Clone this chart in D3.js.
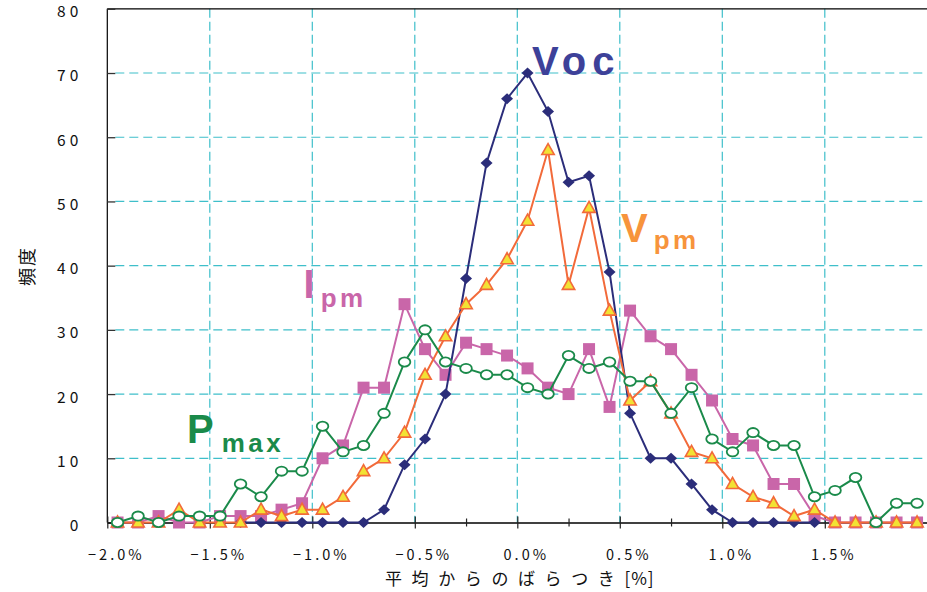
<!DOCTYPE html>
<html><head><meta charset="utf-8">
<script src="https://cdn.jsdelivr.net/npm/d3@7"></script>
<style>body{margin:0;background:#fff}</style>
</head><body>
<svg id="c" width="927" height="592"></svg>
<script>
// bin centres (%), -1.95 .. 1.95 step 0.1
const bins = [-1.95,-1.85,-1.75,-1.65,-1.55,-1.45,-1.35,-1.25,-1.15,-1.05,-0.95,-0.85,-0.75,-0.65,-0.55,-0.45,-0.35,-0.25,-0.15,-0.05,
               0.05,0.15,0.25,0.35,0.45,0.55,0.65,0.75,0.85,0.95,1.05,1.15,1.25,1.35,1.45,1.55,1.65,1.75,1.85,1.95];
const voc  = [null,null,null,null,null,null,0,0,0,0,0,0,0,2,9,13,20,38,56,66,
              70,64,53,54,39,17,10,10,6,2,0,0,0,0,0,null,null,null,null,null];
const vpm  = [0,0,0,2,0,0,0,2,1,2,2,4,8,10,14,23,29,34,37,41,
              47,58,37,49,33,19,22,17,11,10,6,4,3,1,2,0,0,0,0,0];
const ipm  = [0,0,1,0,0,1,1,1,2,3,10,12,21,21,34,27,23,28,27,26,
              24,21,20,27,18,33,29,27,23,19,13,12,6,6,1,0,0,0,0,0];
const pmax = [0,1,0,1,1,1,6,4,8,8,15,11,12,17,25,30,25,24,23,23,
              21,20,26,24,25,22,22,17,21,13,11,14,12,12,4,5,7,0,3,3];
const xTicks = [-2.0,-1.5,-1.0,-0.5,0.0,0.5,1.0,1.5];
const xTickLabels = ["−2.0%","−1.5%","−1.0%","−0.5%","0.0%","0.5%","1.0%","1.5%"];
const yTicks = [0,10,20,30,40,50,60,70,80];

const svg = d3.select("#c");
const x = d3.scaleLinear().domain([-2,2]).range([107.3,927.3]);
const y = d3.scaleLinear().domain([0,80]).range([522.5,8.8]);
const gridColor = "#3fbfca";

// grid
svg.append("g").selectAll("line").data(yTicks.filter(d=>d>0&&d<80)).join("line")
  .attr("x1",x(-2)+8).attr("x2",x(2)).attr("y1",d=>y(d)).attr("y2",d=>y(d))
  .attr("stroke",gridColor).attr("stroke-width",1.2).attr("stroke-dasharray","9,5");
svg.append("g").selectAll("line").data(xTicks.filter(d=>d>-2)).join("line")
  .attr("x1",d=>x(d)).attr("x2",d=>x(d)).attr("y1",y(80)).attr("y2",y(0))
  .attr("stroke",gridColor).attr("stroke-width",1.2).attr("stroke-dasharray","9,4");

// frame
svg.append("line").attr("x1",x(-2)).attr("x2",927).attr("y1",y(80)).attr("y2",y(80)).attr("stroke","#000").attr("stroke-width",1.2);
svg.append("line").attr("x1",x(-2)).attr("x2",x(-2)).attr("y1",y(80)).attr("y2",y(0)).attr("stroke","#000").attr("stroke-width",1.2);

// y axis ticks (inward) and labels
const yAxis = d3.axisLeft(y).tickValues(yTicks).tickSizeInner(-8).tickSizeOuter(0).tickFormat(d=>d);
const gy = svg.append("g").attr("transform",`translate(${x(-2)},0)`).call(yAxis);
gy.select(".domain").remove();
gy.selectAll(".tick line").attr("stroke","#333").attr("stroke-width",1.3);
gy.selectAll(".tick text").attr("x",-25).attr("y",2.5).attr("dy","0.35em")
  .attr("font-family","'Noto Sans CJK JP','Noto Sans',sans-serif").attr("font-size",15.5)
  .attr("letter-spacing","4px").attr("fill","#111");

// x axis
const xMinor = d3.range(-8,9).map(i=>i*0.25);
const xAxis = d3.axisBottom(x).tickValues(xMinor).tickSize(0).tickFormat("");
const gx = svg.append("g").attr("transform",`translate(0,${y(0)})`).call(xAxis);
gx.select(".domain").attr("stroke","#000").attr("stroke-width",1.3);
gx.selectAll(".tick line").attr("stroke","#222").attr("stroke-width",1.2)
  .attr("y1",d=>Math.abs(d*2-Math.round(d*2))<1e-6?-6:-4)
  .attr("y2",d=>Math.abs(d*2-Math.round(d*2))<1e-6?6:4);
svg.append("g").selectAll("text").data(xTicks).join("text")
  .attr("x",d=>x(d)+9).attr("y",560).attr("text-anchor","middle")
  .attr("font-family","'Noto Sans CJK JP','Noto Sans',sans-serif").attr("font-size",14.5)
  .attr("letter-spacing","3px").attr("fill","#111")
  .text((d,i)=>xTickLabels[i]);

// axis titles
const xt = svg.append("text").attr("x",385).attr("y",585)
  .attr("font-family","'Noto Sans CJK JP',sans-serif").attr("font-size",17).attr("fill","#111");
xt.append("tspan").attr("letter-spacing","9.6px").text("平均からのばらつき");
xt.append("tspan").attr("letter-spacing","1px").text("[%]");
svg.append("text").attr("transform","translate(34,266) rotate(-90)").attr("text-anchor","middle")
  .attr("font-family","'Noto Sans CJK JP',sans-serif").attr("font-size",18).attr("letter-spacing","2px")
  .attr("fill","#111").text("頻度");

// series
const series = [
  {name:"Ipm", vals:ipm, line:"#c966a9", marker:"square"},
  {name:"Voc", vals:voc, line:"#2b2d7a", marker:"diamond"},
  {name:"Vpm", vals:vpm, line:"#f26a3a", marker:"triangle"},
  {name:"Pmax", vals:pmax, line:"#1a8a4a", marker:"circle"}
];
const lineGen = d3.line().defined(d=>d.v!=null).x(d=>x(d.b)).y(d=>y(d.v));
series.forEach(s=>{
  const pts = bins.map((b,i)=>({b, v:s.vals[i]}));
  const g = svg.append("g");
  g.append("path").datum(pts).attr("d",lineGen).attr("fill","none")
    .attr("stroke",s.line).attr("stroke-width",2);
  const m = g.selectAll(".m").data(pts.filter(d=>d.v!=null)).join(s.marker==="circle"?"ellipse":"path")
    .attr("transform",d=>`translate(${x(d.b)},${y(d.v)})`);
  if(s.marker==="square") m.attr("d","M-6,-6H6V6H-6Z").attr("fill",s.line);
  if(s.marker==="diamond") m.attr("d","M0,-5.5L6,0L0,5.5L-6,0Z").attr("fill",s.line);
  if(s.marker==="triangle") m.attr("d","M0,-6.5L6.2,4.5L-6.2,4.5Z").attr("fill","#f2e234")
    .attr("stroke",s.line).attr("stroke-width",1.6).attr("stroke-linejoin","miter");
  if(s.marker==="circle") m.attr("rx",5.8).attr("ry",4.6).attr("fill","#fff")
    .attr("stroke",s.line).attr("stroke-width",1.8);
});

// series labels
const lf = "'Liberation Sans',Arial,sans-serif";
function label(x0,yb,big,small,yb2,color,bigLs,dx){
  const t = svg.append("text").attr("x",x0).attr("y",yb).attr("font-family",lf)
    .attr("font-weight","bold").attr("fill",color);
  t.append("tspan").attr("font-size",40).attr("letter-spacing",bigLs).text(big);
  if(small) t.append("tspan").attr("font-size",26).attr("letter-spacing","3.5px")
    .attr("dx",dx).attr("dy",yb2-yb).text(small);
}
label(532,75,"Voc",null,75,"#3d4199","6px",0);
label(621,242,"V","pm",249,"#f7943c","0px",6);
label(303.5,298,"I","pm",307,"#c966a9","0px",6);
label(187,443,"P","max",452,"#1a8a4a","0px",8);
</script>
</body></html>
